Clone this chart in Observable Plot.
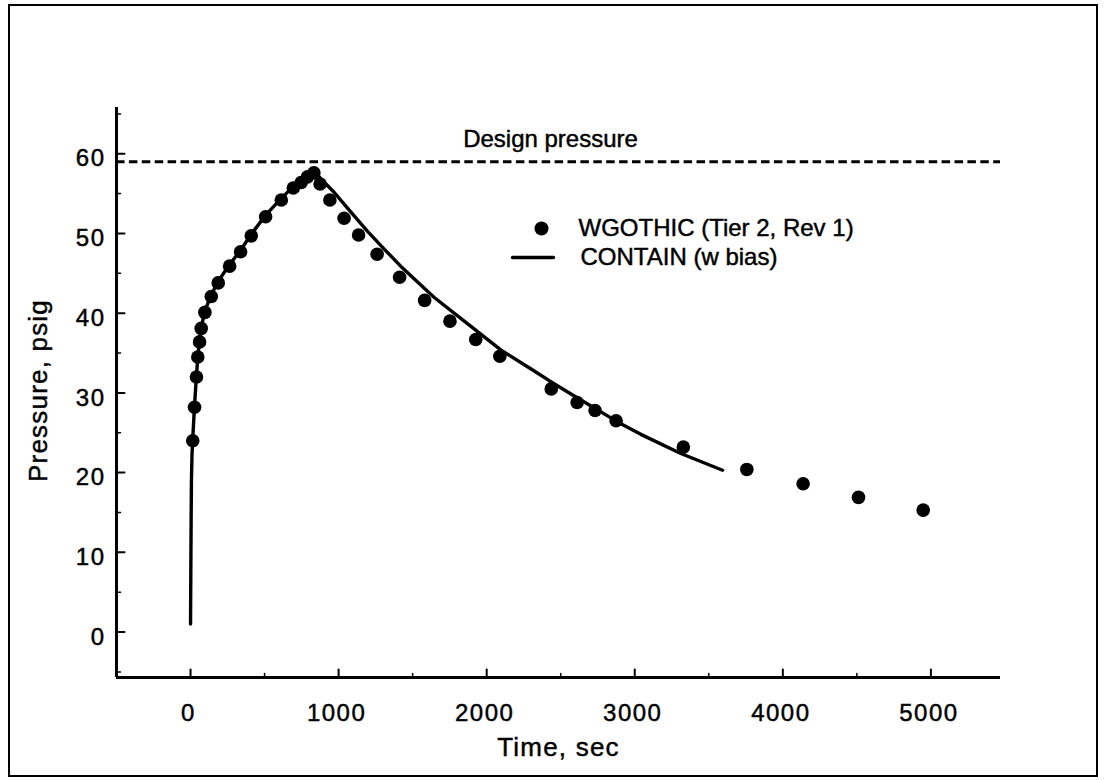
<!DOCTYPE html>
<html>
<head>
<meta charset="utf-8">
<script src="https://cdn.jsdelivr.net/npm/d3@7"></script>
<script src="https://cdn.jsdelivr.net/npm/@observablehq/plot@0.6"></script>
<style>
  body { margin: 0; background: #fff; }
  #wrap { position: relative; width: 1105px; height: 780px; background: #fff; }
  #border { position: absolute; left: 8px; top: 4px; width: 1090px; height: 773px; border: 2px solid #000; box-sizing: border-box; pointer-events: none; }
  #wrap svg text { stroke: #000; stroke-width: 0.45px; }
  g[aria-label="x-axis tick label"] text, g[aria-label="y-axis tick label"] text { letter-spacing: 1.5px; }
  g[aria-description="axis-title"] text { letter-spacing: 1.2px; }
</style>
</head>
<body>
<div id="wrap"><div id="border"></div></div>
<script>
// ---- data ----
const wgTime = [15,27,40,49,61,72,97,140,187,264,338,410,507,613,694,747,790,833,875,941,1037,1135,1260,1412,1581,1752,1926,2089,2436,2611,2732,2874,3328,3757,4137,4511,4948];
const wgPressure = [24.0,28.2,32.0,34.5,36.4,38.1,40.1,42.1,43.8,45.9,47.7,49.7,52.1,54.2,55.7,56.4,57.1,57.6,56.2,54.2,51.9,49.8,47.4,44.5,41.6,39.0,36.7,34.6,30.5,28.8,27.8,26.5,23.2,20.4,18.6,16.9,15.3];

const ctTime = [0,2,4,6,10,15,27,40,50,61,72,97,140,190,264,338,410,507,613,694,760,833,878,968,1050,1194,1300,1419,1644,1870,2095,2300,2425,2611,2890,3041,3311,3593];
const ctPressure = [1.0,8,14,19,22.3,24.3,28.4,32.2,34.7,36.6,38.2,40.3,42.3,44.1,46.1,47.9,49.9,52.3,54.4,55.9,56.9,58.0,56.9,55.2,53.4,50.3,48.2,45.9,42.0,38.7,35.4,33.0,31.5,29.4,26.3,24.8,22.4,20.3];

const designPressure = [59];
const designLabel = "Design pressure";
const legendLabels = ["WGOTHIC (Tier 2, Rev 1)", "CONTAIN (w bias)"];
const xTitle = "Time, sec";
const yTitle = "Pressure, psig";

const xDomain = [-500, 5470];
const yDomain = [-5.7, 65.8];
const xMajor = [0, 1000, 2000, 3000, 4000, 5000];
const xMinor = [500, 1500, 2500, 3500, 4500];
const yMajor = [0, 10, 20, 30, 40, 50, 60];
const yMinor = [-5, 5, 15, 25, 35, 45, 55, 65];

// ---- tables built from the arrays ----
const wgRows = wgTime.map((t, i) => ({t, p: wgPressure[i]}));
const ctRows = ctTime.map((t, i) => ({t, p: ctPressure[i]}));
const designRows = designPressure.map(v => ({v, label: designLabel}));
const fmt = d => String(d);
const lineShape = {draw(ctx, l) { ctx.moveTo(0, 0); ctx.lineTo(0, -l); }};

const chart = Plot.plot({
  width: 1105,
  height: 780,
  marginLeft: 116,
  marginRight: 105,
  marginTop: 107,
  marginBottom: 103,
  style: {fontFamily: "'Liberation Sans', Arial, Helvetica, sans-serif", fontSize: "24px", color: "#000", background: "transparent"},
  x: {domain: xDomain},
  y: {domain: yDomain},
  marks: [
    // design pressure
    Plot.ruleY(designRows, {y: "v", stroke: "#000", strokeWidth: 3, strokeDasharray: "8.5,4.4"}),
    Plot.text(designRows, {y: "v", text: "label", frameAnchor: "middle", textAnchor: "middle", dx: -8, dy: -15, lineAnchor: "bottom", fontSize: 24, fill: "#000"}),

    // axes spines
    Plot.ruleX([xDomain[0]], {stroke: "#000", strokeWidth: 3}),
    Plot.ruleY([yDomain[0]], {stroke: "#000", strokeWidth: 3}),

    // inward ticks
    Plot.vector(xMajor, {x: d => d, y: () => yDomain[0], length: 8, rotate: 0, anchor: "start", shape: lineShape, stroke: "#000", strokeWidth: 2}),
    Plot.vector(xMinor, {x: d => d, y: () => yDomain[0], length: 4, rotate: 0, anchor: "start", shape: lineShape, stroke: "#000", strokeWidth: 1.5}),
    Plot.vector(yMajor, {x: () => xDomain[0], y: d => d, length: 8, rotate: 90, anchor: "start", shape: lineShape, stroke: "#000", strokeWidth: 2}),
    Plot.vector(yMinor, {x: () => xDomain[0], y: d => d, length: 4, rotate: 90, anchor: "start", shape: lineShape, stroke: "#000", strokeWidth: 1.5}),

    // tick labels
    Plot.axisX(xMajor, {tickSize: 0, tickPadding: 26, dx: -2, tickFormat: fmt, fontSize: 24, fill: "#000", label: null}),
    Plot.axisY(yMajor, {tickSize: 0, tickPadding: 11, dy: 5, tickFormat: fmt, fontSize: 24, fill: "#000", label: null}),

    // axis titles
    Plot.text([xTitle], {text: d => d, frameAnchor: "bottom", textAnchor: "middle", dx: 0, dy: 78, lineAnchor: "bottom", fontSize: 26, fill: "#000", ariaDescription: "axis-title"}),
    Plot.text([yTitle], {text: d => d, frameAnchor: "left", textAnchor: "middle", dx: -69.5, dy: -2, rotate: -90, lineAnchor: "bottom", fontSize: 26, fill: "#000", ariaDescription: "axis-title"}),

    // data
    Plot.line(ctRows, {x: "t", y: "p", stroke: "#000", strokeWidth: 3.4, curve: "linear"}),
    Plot.dot(wgRows, {x: "t", y: "p", r: 6.8, fill: "#000", stroke: null}),

    // legend
    Plot.dot([legendLabels[0]], {frameAnchor: "top-left", dx: 425, dy: 121, r: 7, fill: "#000", stroke: null}),
    Plot.vector([legendLabels[1]], {
      frameAnchor: "top-left", dx: 396, dy: 150, length: 41, rotate: 90, anchor: "start",
      stroke: "#000", strokeWidth: 3.4, shape: lineShape
    }),
    Plot.text([legendLabels[0]], {text: d => d, frameAnchor: "top-left", dx: 462, dy: 120.5, textAnchor: "start", lineAnchor: "middle", fontSize: 24, fill: "#000"}),
    Plot.text([legendLabels[1]], {text: d => d, frameAnchor: "top-left", dx: 464, dy: 150, textAnchor: "start", lineAnchor: "middle", fontSize: 24, fill: "#000"})
  ]
});

document.getElementById("wrap").appendChild(chart);
</script>
</body>
</html>
